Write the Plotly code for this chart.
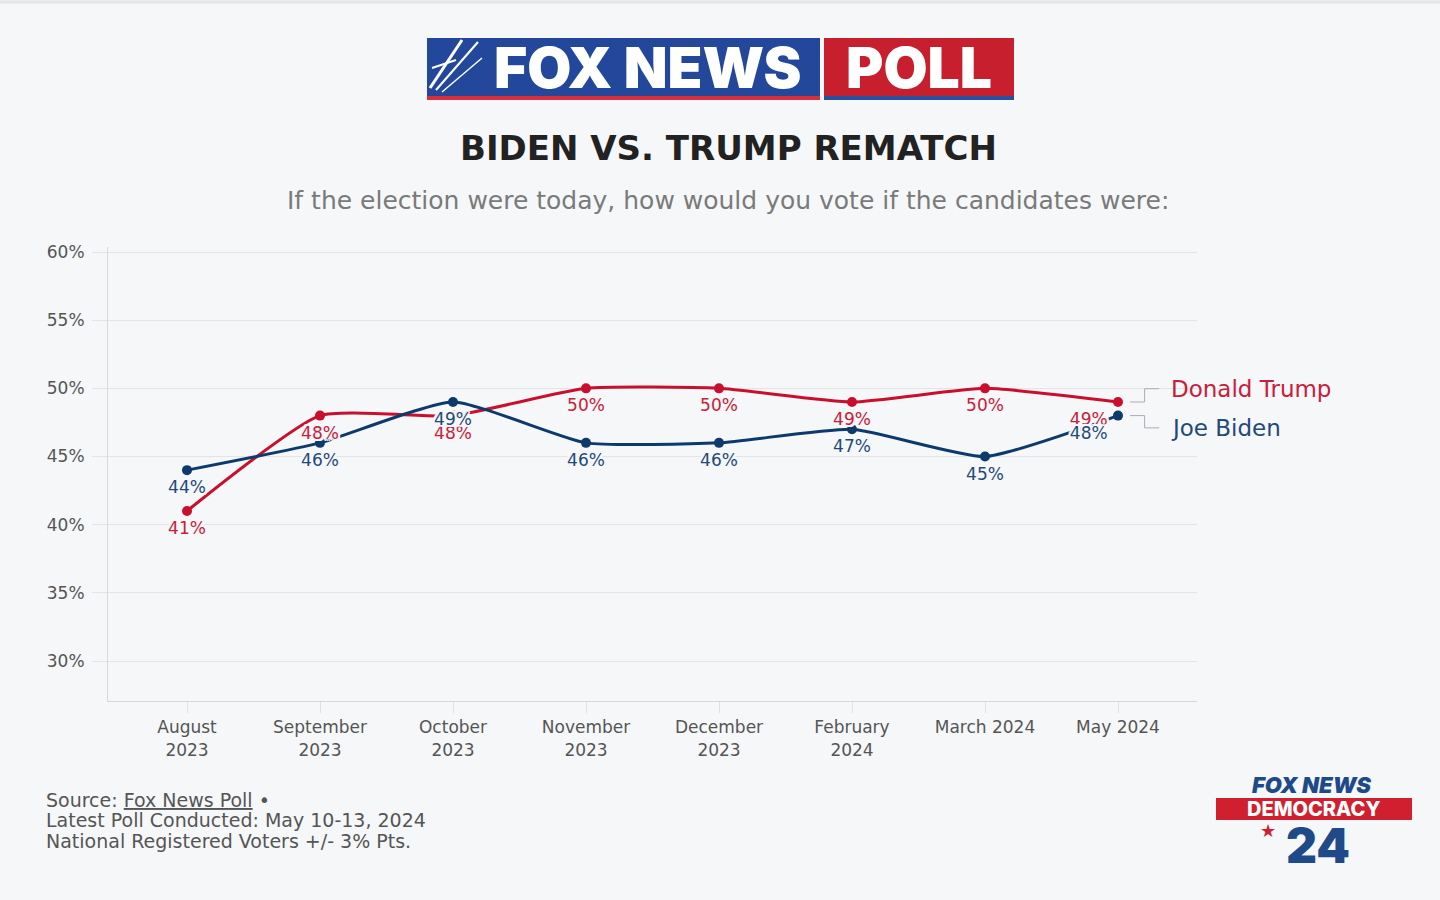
import plotly.graph_objects as go

# ---------------- data ----------------
months = ["August<br>2023", "September<br>2023", "October<br>2023", "November<br>2023",
          "December<br>2023", "February<br>2024", "March 2024", "May 2024"]
trump = [41, 48, 48, 50, 50, 49, 50, 49]
biden = [44, 46, 49, 46, 46, 47, 45, 48]
y_ticks = [30, 35, 40, 45, 50, 55, 60]

# ---------------- style ----------------
BG = "#f6f7f9"
RED = "#c8102e"
RED_TXT = "#c8203a"
NAVY = "#0d3a6c"
NAVY_TXT = "#1f4a7a"
FONT = "DejaVu Sans"
W, H = 1440, 900
L, R, T, B = 108, 1197, 247, 701  # plot area in pixels

def px(x):
    return (x - L) / (R - L)

def py(y):
    return (B - y) / (B - T)

halo = ", ".join(f"{dx}px {dy}px 0 {BG}" for dx, dy in
                 [(-2, -2), (2, -2), (-2, 2), (2, 2), (0, 2), (0, -2), (2, 0), (-2, 0)])

label_font = dict(family=FONT, size=17)

def positions(n):
    return ["bottom center"] * (n - 1) + ["bottom left"]

fig = go.Figure()
fig.add_trace(go.Scatter(
    x=months, y=trump, mode="lines+markers", name="Donald Trump",
    line=dict(color=RED, width=3, shape="spline", smoothing=0.5),
    marker=dict(size=10, color=RED), hoverinfo="skip"))
fig.add_trace(go.Scatter(
    x=months, y=biden, mode="lines+markers", name="Joe Biden",
    line=dict(color=NAVY, width=3, shape="spline", smoothing=0.5),
    marker=dict(size=10, color=NAVY), hoverinfo="skip"))
fig.add_trace(go.Scatter(
    x=months, y=trump, mode="markers+text", text=[f"{v}%" for v in trump],
    textposition=positions(len(trump)),
    textfont=dict(color=RED_TXT, shadow=halo, **label_font),
    marker=dict(size=15, opacity=0), hoverinfo="skip"))
fig.add_trace(go.Scatter(
    x=months, y=biden, mode="markers+text", text=[f"{v}%" for v in biden],
    textposition=positions(len(biden)),
    textfont=dict(color=NAVY_TXT, shadow=halo, **label_font),
    marker=dict(size=15, opacity=0), hoverinfo="skip"))

last = len(months) - 1
shapes = []
# connectors from end points to the series labels
conn = dict(color="#a9adb3", width=1)
shapes += [
    dict(type="line", xref="x", yref="y", x0=last + 0.09, x1=last + 0.2, y0=trump[-1], y1=trump[-1], line=conn),
    dict(type="line", xref="x", yref="y", x0=last + 0.2, x1=last + 0.2, y0=trump[-1], y1=trump[-1] + 0.97, line=conn),
    dict(type="line", xref="x", yref="y", x0=last + 0.2, x1=last + 0.31, y0=trump[-1] + 0.97, y1=trump[-1] + 0.97, line=conn),
    dict(type="line", xref="x", yref="y", x0=last + 0.09, x1=last + 0.2, y0=biden[-1], y1=biden[-1], line=conn),
    dict(type="line", xref="x", yref="y", x0=last + 0.2, x1=last + 0.2, y0=biden[-1], y1=biden[-1] - 0.9, line=conn),
    dict(type="line", xref="x", yref="y", x0=last + 0.2, x1=last + 0.31, y0=biden[-1] - 0.9, y1=biden[-1] - 0.9, line=conn),
]
# top border
shapes.append(dict(type="line", xref="paper", yref="paper", x0=px(0), x1=px(W), y0=py(2), y1=py(2),
                   line=dict(color="#e3e5e8", width=3)))
# header logo boxes
shapes += [
    dict(type="rect", xref="paper", yref="paper", x0=px(427), x1=px(820), y0=py(96), y1=py(38),
         fillcolor="#22479b", line=dict(width=0)),
    dict(type="rect", xref="paper", yref="paper", x0=px(427), x1=px(820), y0=py(100), y1=py(96),
         fillcolor="#d6303f", line=dict(width=0)),
    dict(type="rect", xref="paper", yref="paper", x0=px(824), x1=px(1014), y0=py(96), y1=py(38),
         fillcolor="#c81f2e", line=dict(width=0)),
    dict(type="rect", xref="paper", yref="paper", x0=px(824), x1=px(1014), y0=py(100), y1=py(96),
         fillcolor="#2a4f9e", line=dict(width=0)),
]
for (xa, ya, xb, yb, wd) in [(430, 88, 462, 40, 3), (436, 90, 478, 42, 2), (432, 68, 456, 60, 2),
                             (442, 92, 482, 58, 1.5)]:
    shapes.append(dict(type="line", xref="paper", yref="paper", x0=px(xa), y0=py(ya), x1=px(xb), y1=py(yb),
                       line=dict(color="white", width=wd)))
# bottom-right logo box
shapes.append(dict(type="rect", xref="paper", yref="paper", x0=px(1216), x1=px(1412), y0=py(820), y1=py(798),
                   fillcolor="#d0202f", line=dict(width=0)))


def note(x, y, text, size, color, family=FONT, xanchor="center", weight="normal"):
    return dict(x=px(x), y=py(y), xref="paper", yref="paper", text=text, showarrow=False,
                xanchor=xanchor, yanchor="middle",
                font=dict(family=family, size=size, color=color, weight=weight))


annotations = [
    dict(x=last + 0.38, y=trump[-1] + 0.97, xref="x", yref="y", text="Donald Trump", showarrow=False,
         xanchor="left", yanchor="middle", font=dict(family=FONT, size=23, color=RED_TXT)),
    dict(x=last + 0.38, y=biden[-1] - 0.9, xref="x", yref="y", text="Joe Biden", showarrow=False,
         xanchor="left", yanchor="middle", font=dict(family=FONT, size=23, color=NAVY_TXT)),
    # header logo text
    note(648, 68, "FOX NEWS", 57, "white", family="Inter", weight=900),
    note(919, 68, "POLL", 57, "white", family="Inter", weight=900),
    # title & subtitle
    note(728, 148, "BIDEN VS. TRUMP REMATCH", 34, "#222222", weight="bold"),
    note(728, 200, "If the election were today, how would you vote if the candidates were:", 25, "#7a7a7a"),
    # footer
    note(44, 800, "Source: <u>Fox News Poll</u> •", 19, "#555555", xanchor="left"),
    note(44, 820, "Latest Poll Conducted: May 10-13, 2024", 19, "#555555", xanchor="left"),
    note(44, 841, "National Registered Voters +/- 3% Pts.", 19, "#555555", xanchor="left"),
    # bottom-right logo
    note(1312, 785, "<i>FOX NEWS</i>", 22, "#1f4a8a", family="Inter", weight=900),
    note(1314, 809, "DEMOCRACY", 20, "white", family="Inter", weight=800),
    note(1268, 830, "★", 18, "#d0202f"),
    note(1318, 845, "24", 48, "#1f4a8a", family="Inter", weight=900),
]

fig.update_layout(
    width=W, height=H,
    margin=dict(l=L, r=W - R, t=T, b=H - B),
    paper_bgcolor=BG, plot_bgcolor=BG,
    showlegend=False,
    shapes=shapes, annotations=annotations,
    xaxis=dict(
        type="category", range=[-0.594, last + 0.594],
        showgrid=False, showline=True, linecolor="#d5d8dc", linewidth=1,
        ticks="outside", ticklen=11, tickcolor="#dfe1e4",
        tickfont=dict(family=FONT, size=17, color="#555555"),
        zeroline=False, fixedrange=True,
    ),
    yaxis=dict(
        range=[27.066, 60.367], tickvals=y_ticks, ticktext=[f"{v}%" for v in y_ticks],
        showgrid=True, gridcolor="#e2e4e7", gridwidth=1,
        showline=True, linecolor="#d5d8dc", linewidth=1,
        ticks="outside", ticklen=15, tickcolor="#e2e4e7",
        tickfont=dict(family=FONT, size=17, color="#555555"),
        ticklabelstandoff=4, zeroline=False, fixedrange=True,
    ),
)

fig.write_html("out.html")
